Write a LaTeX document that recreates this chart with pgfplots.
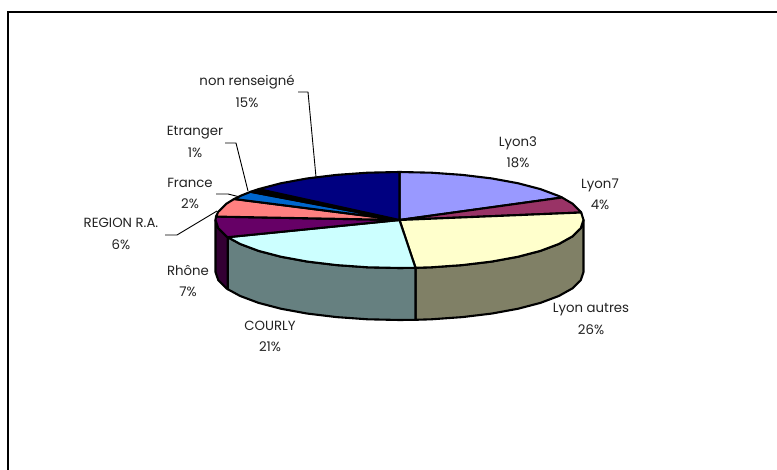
\documentclass[border=0pt]{standalone}
\usepackage{pgfplots}
\pgfplotsset{compat=1.18}
\usepackage{fontspec}
\setmainfont{Poppins}
\definecolor{cA}{HTML}{9999FF}
\definecolor{cB}{HTML}{993366}
\definecolor{cC}{HTML}{FFFFCC}
\definecolor{cD}{HTML}{CCFFFF}
\definecolor{cE}{HTML}{660066}
\definecolor{cF}{HTML}{FF8080}
\definecolor{cG}{HTML}{0066CC}
\definecolor{cH}{HTML}{000000}
\definecolor{cI}{HTML}{000080}
\definecolor{wC}{HTML}{808066}
\definecolor{wD}{HTML}{668080}
\definecolor{wE}{HTML}{330033}
\definecolor{txt}{HTML}{222222}
\tikzset{lbl/.style={font=\fontsize{13.3}{21.5}\selectfont, align=center, text=txt, inner sep=0pt}}
\begin{document}
\begin{tikzpicture}[x=1pt,y=1pt]
\path[use as bounding box] (0,0) rectangle (777,470);
\begin{axis}[
  at={(0,0)}, anchor=south west,
  width=777pt, height=470pt, scale only axis,
  xmin=0, xmax=777, ymin=0, ymax=470, y dir=reverse,
  hide axis, clip=false,
  every axis plot/.append style={line width=2.1pt, line join=round, draw=black, mark=none, sharp plot},
]
% frame
\addplot[line width=2pt, line join=miter] coordinates {(8,470) (8,12) (777,12)};
% walls
\addplot[fill=wC] coordinates {(583.5,220)(580.7,228.3)(572.4,236.4)(558.8,244)(540.4,250.9)(517.8,256.8)(491.5,261.6)(462.4,265.1)(431.4,267.3)(415.5,267.8)
 (415.5,319.8)(431.4,319.3)(462.4,317.1)(491.5,313.6)(517.8,308.8)(540.4,302.9)(558.8,296)(572.4,288.4)(580.7,280.3)(583.5,272)} -- cycle;
\addplot[fill=wD] coordinates {(415.5,267.8)(399.5,268)(367.6,267.3)(336.6,265.1)(307.5,261.6)(281.2,256.8)(258.6,250.9)(240.2,244)(227.7,237.2)
 (227.7,289.2)(240.2,296)(258.6,302.9)(281.2,308.8)(307.5,313.6)(336.6,317.1)(367.6,319.3)(399.5,320)(415.5,319.8)} -- cycle;
\addplot[fill=wE] coordinates {(227.7,237.2)(226.6,236.4)(218.3,228.3)(215.5,220)
 (215.5,272)(218.3,280.3)(226.6,288.4)(227.7,289.2)} -- cycle;
% top face
\addplot[fill=cA] coordinates {(399.5,220)(399.5,172)(431.4,172.7)(462.4,174.9)(491.5,178.4)(517.8,183.2)(540.4,189.1)(558.8,196)(562,197.5)} -- cycle;
\addplot[fill=cB] coordinates {(399.5,220)(562,197.5)(572.4,203.6)(580.7,211.7)(581.2,212.5)} -- cycle;
\addplot[fill=cC] coordinates {(399.5,220)(581.2,212.5)(583.5,220)(580.7,228.3)(572.4,236.4)(558.8,244)(540.4,250.9)(517.8,256.8)(491.5,261.6)(462.4,265.1)(431.4,267.3)(415.5,267.8)} -- cycle;
\addplot[fill=cD] coordinates {(399.5,220)(415.5,267.8)(399.5,268)(367.6,267.3)(336.6,265.1)(307.5,261.6)(281.2,256.8)(258.6,250.9)(240.2,244)(227.7,237.2)} -- cycle;
\addplot[fill=cE] coordinates {(399.5,220)(227.7,237.2)(226.6,236.4)(218.3,228.3)(215.5,220)(216,216.6)} -- cycle;
\addplot[fill=cF] coordinates {(399.5,220)(216,216.6)(218.3,211.7)(226.6,203.6)(234.1,199)} -- cycle;
\addplot[fill=cG] coordinates {(399.5,220)(234.1,199)(240.2,196)(250.6,191.8)} -- cycle;
\addplot[fill=cH] coordinates {(399.5,220)(250.6,191.8)(258.6,189.1)} -- cycle;
\addplot[fill=cI] coordinates {(399.5,220)(258.6,189.1)(281.2,183.2)(307.5,178.4)(336.6,174.9)(367.6,172.7)(399.5,172)} -- cycle;
% leader lines
\addplot[line width=0.9pt] coordinates {(298,92)(308,92)(316,177)};
\addplot[line width=0.9pt] coordinates {(225,143)(236,143)(248,191)};
\addplot[line width=0.9pt] coordinates {(216,194)(228,194)(240,197)};
\addplot[line width=0.9pt] coordinates {(165,235)(177,235)(217,211)};
% labels
\node[lbl] at (axis cs:247,91.5) {non renseigné\\15\%};
\node[lbl] at (axis cs:195,142) {Etranger\\1\%};
\node[lbl] at (axis cs:190,193.5) {France\\2\%};
\node[lbl] at (axis cs:121,234) {REGION R.A.\\6\%};
\node[lbl] at (axis cs:188,281) {Rhône\\7\%};
\node[lbl] at (axis cs:270,336.5) {COURLY\\21\%};
\node[lbl] at (axis cs:591,319) {Lyon autres\\26\%};
\node[lbl] at (axis cs:518,152) {Lyon3\\18\%};
\node[lbl] at (axis cs:600,194.5) {Lyon7\\4\%};
\end{axis}
\end{tikzpicture}
\end{document}
